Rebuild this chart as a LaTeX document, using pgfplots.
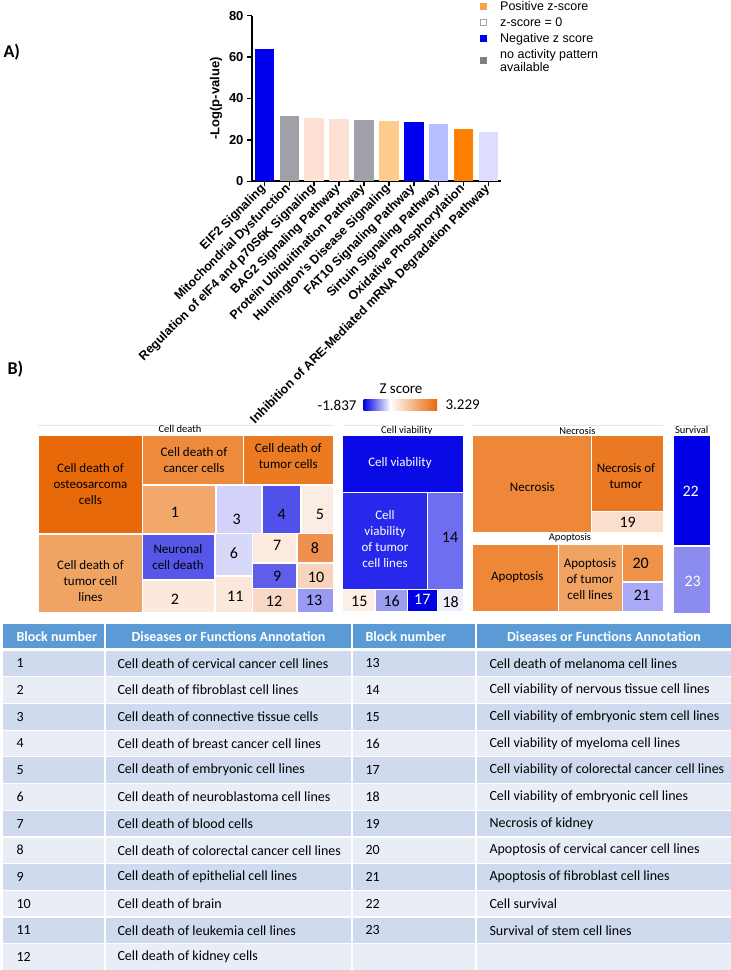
\documentclass[border=0pt]{standalone}
\usepackage{pgfplots}
\pgfplotsset{compat=1.18}
\usepackage{fontspec}
\setmainfont{Liberation Sans}
\newfontfamily\calfont{Carlito}
% bar colours
\definecolor{bBlue}{RGB}{0,0,240}
\definecolor{bGrey}{RGB}{160,160,168}
\definecolor{bPeach}{RGB}{253,226,212}
\definecolor{bLOr}{RGB}{253,203,140}
\definecolor{bLav}{RGB}{184,190,255}
\definecolor{bOr}{RGB}{255,128,0}
\definecolor{bLLav}{RGB}{220,221,255}
% legend
\definecolor{lgOr}{RGB}{247,160,80}
\definecolor{lgGrey}{RGB}{128,128,128}
% table
\definecolor{thead}{RGB}{91,155,213}
\definecolor{tdark}{RGB}{207,218,238}
\definecolor{tlight}{RGB}{233,237,246}
\newcommand{\blk}[5]{\addplot[fill={#5}, draw=white, line width=1.2pt] coordinates {(#1,#2) (#3,#2) (#3,#4) (#1,#4) (#1,#2)};}
\newcommand{\trow}[2]{\addplot[fill={#2}, draw=white, line width=2pt] coordinates {(2,#1) (735,#1) (735,\the\numexpr0\relax) };}
\begin{document}
\begin{tikzpicture}
\begin{axis}[at={(0pt,0pt)}, anchor=north west, scale only axis, width=731pt, height=970pt,
  xmin=0, xmax=731, ymin=0, ymax=970, y dir=reverse, hide axis, clip=false]
% ---- panel labels
\node[font=\calfont\bfseries\fontsize{18}{18}\selectfont, anchor=west] at (axis cs:0,52) {A)};
\node[font=\calfont\bfseries\fontsize{18}{18}\selectfont, anchor=west] at (axis cs:4,369) {B)};
% ---- legend of panel A
\addplot[only marks, mark=square*, mark size=2.8pt, mark options={fill=lgOr, draw=lgOr}] coordinates {(483,6)};
\addplot[only marks, mark=square*, mark size=2.8pt, mark options={fill=white, draw=black!35, line width=0.6pt}] coordinates {(483,22)};
\addplot[only marks, mark=square*, mark size=2.8pt, mark options={fill=bBlue, draw=bBlue}] coordinates {(483,38)};
\addplot[only marks, mark=square*, mark size=2.8pt, mark options={fill=lgGrey, draw=lgGrey}] coordinates {(483,60)};
\begin{scope}[every node/.style={font=\fontsize{12.5}{13}\selectfont, anchor=base west, inner sep=0pt}]
\node at (axis cs:500,10.4) {Positive z-score};
\node at (axis cs:500,26.4) {z-score = 0};
\node at (axis cs:500,42.4) {Negative z score};
\node at (axis cs:500,58.4) {no activity pattern};
\node at (axis cs:500,71.4) {available};
\end{scope}
% ---- colour bar
\shade[left color={rgb,255:red,0;green,0;blue,230}, right color=white] (axis cs:363.5,399) rectangle (axis cs:390.5,410);
\shade[left color=white, right color={rgb,255:red,232;green,105;blue,10}] (axis cs:390,399) rectangle (axis cs:437,410);
\node[font=\calfont\fontsize{15}{15}\selectfont] at (axis cs:401,389) {Z score};
\node[font=\calfont\fontsize{15}{15}\selectfont, anchor=east] at (axis cs:360,405) {-1.837};
\node[font=\calfont\fontsize{15}{15}\selectfont, anchor=west] at (axis cs:442,405) {3.229};
% ---- group headers
\addplot[draw=black!10, line width=0.8pt] coordinates {(38,425) (333,425)};
\addplot[draw=black!10, line width=0.8pt] coordinates {(343,425) (464,425)};
\addplot[draw=black!10, line width=0.8pt] coordinates {(472,425) (663,425)};
\addplot[draw=black!10, line width=0.8pt] coordinates {(673,425) (711,425)};
\begin{scope}[every node/.style={font=\calfont\fontsize{10.5}{12}\selectfont}]
\node at (axis cs:180,429) {Cell death};
\node at (axis cs:406.7,431) {Cell viability};
\node at (axis cs:577.3,430.7) {Necrosis};
\node at (axis cs:570,537.7) {Apoptosis};
\node at (axis cs:691.7,430) {Survival};
\end{scope}
% ---- treemap: Cell death
\blk{38.3}{435}{142.7}{534}{{rgb,255:red,232;green,105;blue,10}}
\blk{38.3}{534}{142.7}{612.7}{{rgb,255:red,240;green,164;blue,100}}
\blk{142.7}{435}{243.3}{485}{{rgb,255:red,238;green,138;blue,60}}
\blk{243.3}{435}{333.3}{485}{{rgb,255:red,235;green,122;blue,34}}
\blk{142.7}{485}{216}{534}{{rgb,255:red,242;green,167;blue,107}}
\blk{216}{485}{262}{533.5}{{rgb,255:red,210;green,210;blue,250}}
\blk{262}{485}{301}{533.5}{{rgb,255:red,80;green,80;blue,235}}
\blk{301}{485}{333.3}{533.5}{{rgb,255:red,251;green,237;blue,227}}
\blk{142.7}{534}{215}{580}{{rgb,255:red,86;green,86;blue,232}}
\blk{142.7}{580}{215}{612.7}{{rgb,255:red,252;green,233;blue,220}}
\blk{215}{533.5}{252.5}{576}{{rgb,255:red,216;green,216;blue,248}}
\blk{215}{576}{252.5}{612.7}{{rgb,255:red,252;green,232;blue,218}}
\blk{252.5}{533.5}{297}{563}{{rgb,255:red,252;green,234;blue,222}}
\blk{297}{533.5}{333.3}{563}{{rgb,255:red,238;green,144;blue,80}}
\blk{252.5}{563}{297}{588.3}{{rgb,255:red,94;green,94;blue,232}}
\blk{297}{563}{333.3}{588.3}{{rgb,255:red,248;green,212;blue,188}}
\blk{252.5}{588.3}{297}{612.7}{{rgb,255:red,248;green,216;blue,196}}
\blk{297}{588.3}{333.3}{612.7}{{rgb,255:red,154;green,154;blue,242}}
% ---- Cell viability
\blk{342.7}{435}{463.7}{492.3}{{rgb,255:red,10;green,10;blue,230}}
\blk{342.7}{492.3}{427.3}{589.3}{{rgb,255:red,40;green,40;blue,236}}
\blk{427.3}{492.3}{463.7}{589.3}{{rgb,255:red,110;green,110;blue,240}}
\blk{342.7}{589.3}{375}{612}{{rgb,255:red,252;green,239;blue,230}}
\blk{375}{589.3}{407.3}{612}{{rgb,255:red,156;green,156;blue,240}}
\blk{407.3}{589.3}{437.7}{612}{{rgb,255:red,0;green,0;blue,224}}
\blk{437.7}{589.3}{463.7}{612}{{rgb,255:red,238;green,238;blue,252}}
% ---- Necrosis
\blk{472.3}{435}{591.7}{532.7}{{rgb,255:red,238;green,136;blue,56}}
\blk{591.7}{435}{663.3}{511.7}{{rgb,255:red,235;green,120;blue,34}}
\blk{591.7}{511.7}{663.3}{532.7}{{rgb,255:red,250;green,224;blue,204}}
% ---- Apoptosis
\blk{472.7}{544}{558.3}{611.7}{{rgb,255:red,238;green,136;blue,56}}
\blk{558.3}{544}{622.3}{611.7}{{rgb,255:red,241;green,163;blue,100}}
\blk{622.3}{544}{663.3}{582}{{rgb,255:red,240;green,146;blue,72}}
\blk{622.3}{582}{663.3}{611.7}{{rgb,255:red,170;green,170;blue,248}}
% ---- Survival
\blk{673.3}{435}{711}{546}{{rgb,255:red,0;green,0;blue,230}}
\blk{673.3}{546}{711}{613.3}{{rgb,255:red,140;green,140;blue,238}}
% ---- treemap texts
\begin{scope}[every node/.style={font=\calfont\fontsize{13}{16}\selectfont, align=center}]
\node at (axis cs:90.5,484.5) {Cell death of\\osteosarcoma\\cells};
\node at (axis cs:90.5,581) {Cell death of\\tumor cell\\lines};
\node at (axis cs:194,460.3) {Cell death of\\cancer cells};
\node at (axis cs:288.3,456) {Cell death of\\tumor cells};
\node at (axis cs:178,557) {Neuronal\\cell death};
\node[text=white] at (axis cs:400,463.3) {Cell viability};
\node[text=white] at (axis cs:385,539) {Cell\\viability\\of tumor\\cell lines};
\node at (axis cs:532.3,486.7) {Necrosis};
\node at (axis cs:626,476) {Necrosis of\\tumor};
\node at (axis cs:517.3,576.7) {Apoptosis};
\node at (axis cs:590,579) {Apoptosis\\of tumor\\cell lines};
\end{scope}
\begin{scope}[every node/.style={font=\calfont\fontsize{16}{16}\selectfont}]
\node at (axis cs:175,512) {1};
\node at (axis cs:175,599) {2};
\node at (axis cs:236.7,519) {3};
\node at (axis cs:281.7,514) {4};
\node at (axis cs:320,514.3) {5};
\node at (axis cs:234,553.3) {6};
\node at (axis cs:277.3,545.7) {7};
\node at (axis cs:315,547.7) {8};
\node at (axis cs:277.3,576) {9};
\node at (axis cs:316,577.7) {10};
\node at (axis cs:235.3,596.7) {11};
\node at (axis cs:274,601.7) {12};
\node at (axis cs:314,600.7) {13};
\node at (axis cs:450,537.7) {14};
\node at (axis cs:359.3,601) {15};
\node at (axis cs:391.7,601) {16};
\node[text=white] at (axis cs:422.3,599.3) {17};
\node at (axis cs:450.7,601.7) {18};
\node at (axis cs:627.7,522.7) {19};
\node at (axis cs:640.7,563.3) {20};
\node at (axis cs:642,595.7) {21};
\node[text=white] at (axis cs:690.7,491.7) {22};
\node[text=white] at (axis cs:692.7,581) {23};
\end{scope}
% ---- table
\blk{2}{623.5}{735}{649}{thead}
\blk{2}{650}{735}{676.7}{tdark}
\blk{2}{676.7}{735}{703.4}{tlight}
\blk{2}{703.4}{735}{730.1}{tdark}
\blk{2}{730.1}{735}{756.8}{tlight}
\blk{2}{756.8}{735}{783.5}{tdark}
\blk{2}{783.5}{735}{810.2}{tlight}
\blk{2}{810.2}{735}{836.9}{tdark}
\blk{2}{836.9}{735}{863.6}{tlight}
\blk{2}{863.6}{735}{890.3}{tdark}
\blk{2}{890.3}{735}{917}{tlight}
\blk{2}{917}{735}{943.7}{tdark}
\blk{2}{943.7}{735}{970.4}{tlight}
\addplot[draw=white, line width=2.5pt] coordinates {(105,622) (105,972)};
\addplot[draw=white, line width=2.5pt] coordinates {(352,622) (352,972)};
\addplot[draw=white, line width=2.5pt] coordinates {(476,622) (476,972)};
\begin{scope}[every node/.style={font=\calfont\bfseries\fontsize{14}{16}\selectfont, text=white}]
\node[anchor=west] at (axis cs:13,636.7) {Block number};
\node at (axis cs:228.5,636.7) {Diseases or Functions Annotation};
\node[anchor=west] at (axis cs:362,636.7) {Block number};
\node at (axis cs:604,636.7) {Diseases or Functions Annotation};
\end{scope}
\begin{scope}[every node/.style={font=\calfont\fontsize{14}{16}\selectfont, anchor=west}]
\node at (axis cs:13,663.3) {1};   \node at (axis cs:114,663.3) {Cell death of cervical cancer cell lines};
\node at (axis cs:362,663.3) {13};  \node at (axis cs:486,663.3) {Cell death of melanoma cell lines};
\node at (axis cs:13,690) {2};     \node at (axis cs:114,690) {Cell death of fibroblast cell lines};
\node at (axis cs:362,690) {14};    \node at (axis cs:486,690) {Cell viability of nervous tissue cell lines};
\node at (axis cs:13,716.7) {3};   \node at (axis cs:114,716.7) {Cell death of connective tissue cells};
\node at (axis cs:362,716.7) {15};  \node at (axis cs:486,716.7) {Cell viability of embryonic stem cell lines};
\node at (axis cs:13,743.4) {4};   \node at (axis cs:114,743.4) {Cell death of breast cancer cell lines};
\node at (axis cs:362,743.4) {16};  \node at (axis cs:486,743.4) {Cell viability of myeloma cell lines};
\node at (axis cs:13,770.1) {5};   \node at (axis cs:114,770.1) {Cell death of embryonic cell lines};
\node at (axis cs:362,770.1) {17};  \node at (axis cs:486,770.1) {Cell viability of colorectal cancer cell lines};
\node at (axis cs:13,796.8) {6};   \node at (axis cs:114,796.8) {Cell death of neuroblastoma cell lines};
\node at (axis cs:362,796.8) {18};  \node at (axis cs:486,796.8) {Cell viability of embryonic cell lines};
\node at (axis cs:13,823.5) {7};   \node at (axis cs:114,823.5) {Cell death of blood cells};
\node at (axis cs:362,823.5) {19};  \node at (axis cs:486,823.5) {Necrosis of kidney};
\node at (axis cs:13,850.2) {8};   \node at (axis cs:114,850.2) {Cell death of colorectal cancer cell lines};
\node at (axis cs:362,850.2) {20};  \node at (axis cs:486,850.2) {Apoptosis of cervical cancer cell lines};
\node at (axis cs:13,876.9) {9};   \node at (axis cs:114,876.9) {Cell death of epithelial cell lines};
\node at (axis cs:362,876.9) {21};  \node at (axis cs:486,876.9) {Apoptosis of fibroblast cell lines};
\node at (axis cs:13,903.6) {10};  \node at (axis cs:114,903.6) {Cell death of brain};
\node at (axis cs:362,903.6) {22};  \node at (axis cs:486,903.6) {Cell survival};
\node at (axis cs:13,930.3) {11};  \node at (axis cs:114,930.3) {Cell death of leukemia cell lines};
\node at (axis cs:362,930.3) {23};  \node at (axis cs:486,930.3) {Survival of stem cell lines};
\node at (axis cs:13,957) {12};    \node at (axis cs:114,957) {Cell death of kidney cells};
\end{scope}
\end{axis}
% ================= Panel A bar chart
\begin{axis}[at={(252pt,-181.3pt)}, anchor=south west, scale only axis,
  width=249pt, height=165.6pt,
  xmin=-0.5, xmax=9.5, ymin=0, ymax=80,
  axis x line*=bottom, axis y line*=left,
  axis line style={line width=1.8pt, black},
  tick align=outside, major tick length=5pt,
  tick style={line width=1.5pt, black},
  xtick={0,...,9}, ytick={0,20,40,60,80},
  xticklabels={EIF2 Signaling, Mitochondrial Dysfunction, Regulation of eIF4 and p70S6K Signaling, BAG2 Signaling Pathway, Protein Ubiquitination Pathway, Huntington's Disease Signaling, FAT10 Signaling Pathway, Sirtuin Signaling Pathway, Oxidative Phosphorylation, Inhibition of ARE-Mediated mRNA Degradation Pathway},
  xticklabel style={rotate=45, anchor=east, font=\bfseries\fontsize{12.5}{14}\selectfont, inner sep=1pt},
  yticklabel style={font=\bfseries\fontsize{13}{14}\selectfont},
  /pgf/number format/assume math mode=true,
  ylabel={-Log(p-value)},
  ylabel style={font=\bfseries\fontsize{13}{14}\selectfont},
  clip=false]
\addplot[ybar, bar width=19.5pt, bar shift=0pt, fill=bBlue, draw=none] coordinates {(0,63.8)};
\addplot[ybar, bar width=19.5pt, bar shift=0pt, fill=bGrey, draw=none] coordinates {(1,31.4)};
\addplot[ybar, bar width=19.5pt, bar shift=0pt, fill=bPeach, draw=none] coordinates {(2,30.4)};
\addplot[ybar, bar width=19.5pt, bar shift=0pt, fill=bPeach, draw=none] coordinates {(3,30.2)};
\addplot[ybar, bar width=19.5pt, bar shift=0pt, fill=bGrey, draw=none] coordinates {(4,29.5)};
\addplot[ybar, bar width=19.5pt, bar shift=0pt, fill=bLOr, draw=none] coordinates {(5,29.0)};
\addplot[ybar, bar width=19.5pt, bar shift=0pt, fill=bBlue, draw=none] coordinates {(6,28.5)};
\addplot[ybar, bar width=19.5pt, bar shift=0pt, fill=bLav, draw=none] coordinates {(7,27.7)};
\addplot[ybar, bar width=19.5pt, bar shift=0pt, fill=bOr, draw=none] coordinates {(8,25.3)};
\addplot[ybar, bar width=19.5pt, bar shift=0pt, fill=bLLav, draw=none] coordinates {(9,24.0)};
\end{axis}
\pgfresetboundingbox
\path[use as bounding box] (0pt,0pt) rectangle (731pt,-970pt);
\end{tikzpicture}
\end{document}
